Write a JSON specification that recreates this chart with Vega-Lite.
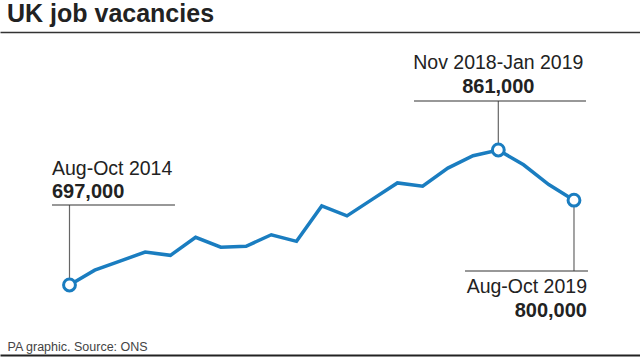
{
  "$schema": "https://vega.github.io/schema/vega-lite/v6.json",
  "autosize": {"type": "none"},
  "width": 640,
  "height": 323,
  "padding": {"top": 32, "left": 0, "right": 0, "bottom": 2},
  "background": "white",
  "title": {
    "text": "UK job vacancies",
    "anchor": "start",
    "frame": "group",
    "fontSize": 25,
    "fontWeight": "bold",
    "color": "#222222",
    "font": "Liberation Sans",
    "offset": 9,
    "baseline": "alphabetic",
    "dx": 7,
    "dy": 24
  },
  "config": {
    "view": {"stroke": null},
    "font": "Liberation Sans"
  },
  "datasets": {
    "series": [
      {"t": 0, "period": "Aug-Oct 2014", "v": 697000},
      {"t": 1, "period": "Nov 2014-Jan 2015", "v": 715000},
      {"t": 2, "period": "Feb-Apr 2015", "v": 726000},
      {"t": 3, "period": "May-Jul 2015", "v": 737000},
      {"t": 4, "period": "Aug-Oct 2015", "v": 733000},
      {"t": 5, "period": "Nov 2015-Jan 2016", "v": 755000},
      {"t": 6, "period": "Feb-Apr 2016", "v": 743000},
      {"t": 7, "period": "May-Jul 2016", "v": 744000},
      {"t": 8, "period": "Aug-Oct 2016", "v": 758000},
      {"t": 9, "period": "Nov 2016-Jan 2017", "v": 750000},
      {"t": 10, "period": "Feb-Apr 2017", "v": 793000},
      {"t": 11, "period": "May-Jul 2017", "v": 781000},
      {"t": 12, "period": "Aug-Oct 2017", "v": 801000},
      {"t": 13, "period": "Nov 2017-Jan 2018", "v": 821000},
      {"t": 14, "period": "Feb-Apr 2018", "v": 817000},
      {"t": 15, "period": "May-Jul 2018", "v": 839000},
      {"t": 16, "period": "Aug-Oct 2018", "v": 854000},
      {"t": 17, "period": "Nov 2018-Jan 2019", "v": 861000},
      {"t": 18, "period": "Feb-Apr 2019", "v": 843000},
      {"t": 19, "period": "May-Jul 2019", "v": 819000},
      {"t": 20, "period": "Aug-Oct 2019", "v": 800000}
    ],
    "notes": [
      {"key": "start", "t": 0, "period": "Aug-Oct 2014", "v": 697000, "lv": 794190, "t0": -0.694, "t1": 4.182},
      {"key": "peak", "t": 17, "period": "Nov 2018-Jan 2019", "v": 861000, "lv": 920530, "t0": 13.657, "t1": 20.476},
      {"key": "end", "t": 20, "period": "Aug-Oct 2019", "v": 800000, "lv": 714010, "t0": 15.679, "t1": 20.555}
    ]
  },
  "resolve": {"axis": {"x": "independent"}},
  "layer": [
    {
      "data": {"name": "series"},
      "mark": {"type": "line", "color": "#1a7dc0", "strokeWidth": 3.5, "strokeJoin": "miter"},
      "encoding": {
        "x": {
          "field": "t", "type": "quantitative",
          "scale": {"domain": [-2.755, 22.617], "nice": false, "zero": false},
          "axis": {
            "orient": "bottom",
            "domain": true, "domainColor": "#222222", "domainWidth": 2,
            "labels": false, "ticks": false, "grid": false,
            "title": "PA graphic. Source: ONS",
            "titleAnchor": "start", "titleAlign": "left", "titleBaseline": "alphabetic",
            "titleX": 7, "titleY": -5,
            "titleFontSize": 12.5, "titleFontWeight": "normal", "titleColor": "#444444",
            "titleFont": "Liberation Sans"
          }
        },
        "y": {
          "field": "v", "type": "quantitative",
          "scale": {"domain": [611950, 1004350], "nice": false, "zero": false},
          "axis": null
        }
      }
    },
    {
      "data": {"name": "notes"},
      "mark": {"type": "rule", "color": "#666666", "strokeWidth": 1.2},
      "encoding": {
        "x": {"field": "t", "type": "quantitative", "axis": null},
        "y": {"field": "v", "type": "quantitative"},
        "y2": {"field": "lv"}
      }
    },
    {
      "data": {"name": "notes"},
      "mark": {"type": "rule", "color": "#333333", "strokeWidth": 1.2},
      "encoding": {
        "x": {
          "field": "t0", "type": "quantitative",
          "axis": {
            "orient": "top",
            "domain": true, "domainColor": "#333333", "domainWidth": 1.5,
            "labels": false, "ticks": false, "grid": false, "title": null
          }
        },
        "x2": {"field": "t1"},
        "y": {"field": "lv", "type": "quantitative"}
      }
    },
    {
      "data": {"name": "notes"},
      "mark": {"type": "point", "filled": false, "fill": "white", "stroke": "#1a7dc0", "strokeWidth": 3, "size": 140, "opacity": 1},
      "encoding": {
        "x": {"field": "t", "type": "quantitative", "axis": null},
        "y": {"field": "v", "type": "quantitative"}
      }
    },
    {
      "data": {"name": "notes"},
      "transform": [{"filter": "datum.key === 'start'"}],
      "layer": [
        {
          "mark": {"type": "text", "align": "left", "baseline": "alphabetic", "dy": -30, "fontSize": 19.5, "color": "#222222"},
          "encoding": {
            "x": {"field": "t0", "type": "quantitative", "axis": null},
            "y": {"field": "lv", "type": "quantitative"},
            "text": {"field": "period"}
          }
        },
        {
          "mark": {"type": "text", "align": "left", "baseline": "alphabetic", "dy": -7, "fontSize": 20, "fontWeight": "bold", "color": "#222222"},
          "encoding": {
            "x": {"field": "t0", "type": "quantitative", "axis": null},
            "y": {"field": "lv", "type": "quantitative"},
            "text": {"field": "v", "format": ","}
          }
        }
      ]
    },
    {
      "data": {"name": "notes"},
      "transform": [{"filter": "datum.key === 'peak'"}],
      "layer": [
        {
          "mark": {"type": "text", "align": "center", "baseline": "alphabetic", "dy": -32, "fontSize": 19.5, "color": "#222222"},
          "encoding": {
            "x": {"field": "t", "type": "quantitative", "axis": null},
            "y": {"field": "lv", "type": "quantitative"},
            "text": {"field": "period"}
          }
        },
        {
          "mark": {"type": "text", "align": "center", "baseline": "alphabetic", "dy": -8, "fontSize": 20, "fontWeight": "bold", "color": "#222222"},
          "encoding": {
            "x": {"field": "t", "type": "quantitative", "axis": null},
            "y": {"field": "lv", "type": "quantitative"},
            "text": {"field": "v", "format": ","}
          }
        }
      ]
    },
    {
      "data": {"name": "notes"},
      "transform": [{"filter": "datum.key === 'end'"}],
      "layer": [
        {
          "mark": {"type": "text", "align": "right", "baseline": "alphabetic", "dx": -1, "dy": 22, "fontSize": 19.5, "color": "#222222"},
          "encoding": {
            "x": {"field": "t1", "type": "quantitative", "axis": null},
            "y": {"field": "lv", "type": "quantitative"},
            "text": {"field": "period"}
          }
        },
        {
          "mark": {"type": "text", "align": "right", "baseline": "alphabetic", "dx": -1, "dy": 46, "fontSize": 20, "fontWeight": "bold", "color": "#222222"},
          "encoding": {
            "x": {"field": "t1", "type": "quantitative", "axis": null},
            "y": {"field": "lv", "type": "quantitative"},
            "text": {"field": "v", "format": ","}
          }
        }
      ]
    }
  ]
}
